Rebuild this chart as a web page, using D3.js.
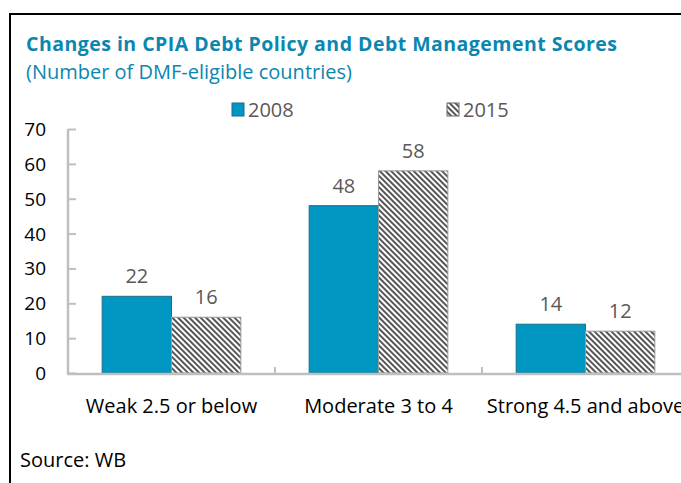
<!DOCTYPE html>
<html>
<head>
<meta charset="utf-8">
<script src="https://cdn.jsdelivr.net/npm/d3@7"></script>
<style>
  body { margin: 0; background: #fff; }
  svg { display: block; font-family: "Open Sans", "Noto Sans", sans-serif; }
</style>
</head>
<body>
<div id="graph"></div>
<script>
const categories = ["Weak 2.5 or below", "Moderate 3 to 4", "Strong 4.5 and above"]
const seriesNames = ["2008", "2015"]
const values2008 = [22, 48, 14]
const values2015 = [16, 58, 12]
const yTicks = [0, 10, 20, 30, 40, 50, 60, 70]

const width = 681
const height = 483
const teal = "#0096c2"

const svg = d3.select("#graph").append("svg")
    .attr("width", width)
    .attr("height", height)

// hatch pattern for 2015
const defs = svg.append("defs")
const pat = defs.append("pattern")
    .attr("id", "hatch")
    .attr("patternUnits", "userSpaceOnUse")
    .attr("width", 4)
    .attr("height", 4)
    .attr("patternTransform", "rotate(-45)")
pat.append("rect").attr("width", 4).attr("height", 4).attr("fill", "#fff")
pat.append("line")
    .attr("x1", 1).attr("y1", 0).attr("x2", 1).attr("y2", 4)
    .attr("stroke", "#444").attr("stroke-width", 1.8)

// frame
svg.append("path")
    .attr("d", `M10,${height} V14 H${width}`)
    .attr("fill", "none")
    .attr("stroke", "#000")
    .attr("stroke-width", 2)

// Title
svg.append("text")
    .attr("x", 26).attr("y", 51)
    .attr("font-size", 19.5)
    .attr("font-weight", "bold")
    .attr("fill", "#0a86b0")
    .attr("textLength", 591)
    .text("Changes in CPIA Debt Policy and Debt Management Scores")

svg.append("text")
    .attr("x", 26).attr("y", 79)
    .attr("font-size", 20)
    .attr("fill", "#0a86b0")
    .text("(Number of DMF-eligible countries)")

const y = d3.scaleLinear()
    .domain([0, 70])
    .range([373, 129])

const x0 = d3.scaleBand()
    .domain(categories)
    .range([68, 689])
    .paddingInner(0.33)
    .paddingOuter(0.165)

const x1 = d3.scaleBand()
    .domain(seriesNames)
    .range([0, x0.bandwidth()])

// Y axis
const yAxis = svg.append("g")
    .attr("transform", "translate(68,0)")
    .call(d3.axisRight(y).tickValues(yTicks).tickSize(8).tickFormat(""))
yAxis.select(".domain").remove()
yAxis.selectAll(".tick line").attr("stroke", "#bfbfbf").attr("stroke-width", 2)
svg.append("line")
    .attr("x1", 68).attr("x2", 68)
    .attr("y1", y(70)).attr("y2", y(0) + 1)
    .attr("stroke", "#bfbfbf").attr("stroke-width", 2.5)

svg.append("g")
    .selectAll("text")
    .data(yTicks)
    .join("text")
    .attr("x", 46)
    .attr("y", d => y(d) + 7)
    .attr("text-anchor", "end")
    .attr("font-size", 19)
    .attr("fill", "#000")
    .text(d => d)

// bars
const rows = categories.map((c, i) => ({ cat: c, vals: [values2008[i], values2015[i]] }))

const groups = svg.append("g")
    .selectAll("g")
    .data(rows)
    .join("g")
    .attr("transform", d => `translate(${x0(d.cat)},0)`)

groups.selectAll("rect")
    .data(d => d.vals.map((v, j) => ({ key: seriesNames[j], v })))
    .join("rect")
    .attr("x", d => x1(d.key))
    .attr("width", x1.bandwidth())
    .attr("y", d => y(d.v))
    .attr("height", d => y(0) - y(d.v))
    .attr("fill", d => d.key === "2008" ? teal : "url(#hatch)")
    .attr("stroke", d => d.key === "2008" ? "#1a6f8a" : "#999")
    .attr("stroke-width", 1)

groups.selectAll("text")
    .data(d => d.vals.map((v, j) => ({ key: seriesNames[j], v })))
    .join("text")
    .attr("x", d => x1(d.key) + x1.bandwidth() / 2)
    .attr("y", d => y(d.v) - 13)
    .attr("text-anchor", "middle")
    .attr("font-size", 20)
    .attr("fill", "#595959")
    .text(d => d.v)

// X axis
svg.append("line")
    .attr("x1", 67).attr("x2", width)
    .attr("y1", y(0) + 1).attr("y2", y(0) + 1)
    .attr("stroke", "#bfbfbf").attr("stroke-width", 2.5)

svg.append("g")
    .selectAll("line")
    .data(categories.slice(1))
    .join("line")
    .attr("x1", d => x0(d) - x0.step() * x0.paddingInner() / 2)
    .attr("x2", d => x0(d) - x0.step() * x0.paddingInner() / 2)
    .attr("y1", y(0) - 6).attr("y2", y(0))
    .attr("stroke", "#bfbfbf").attr("stroke-width", 2)

svg.append("g")
    .selectAll("text")
    .data(categories)
    .join("text")
    .attr("x", d => x0(d) + x0.bandwidth() / 2)
    .attr("y", 413)
    .attr("text-anchor", "middle")
    .attr("font-size", 20)
    .attr("fill", "#000")
    .text(d => d)

// Legend
const legend = svg.append("g")
const legendX = [232, 447]
seriesNames.forEach((s, i) => {
    legend.append("rect")
        .attr("x", legendX[i]).attr("y", 103)
        .attr("width", 12).attr("height", 13)
        .attr("fill", i === 0 ? teal : "url(#hatch)")
        .attr("stroke", i === 0 ? "#1a6f8a" : "#666")
    legend.append("text")
        .attr("x", legendX[i] + 16).attr("y", 117)
        .attr("font-size", 20)
        .attr("fill", "#595959")
        .text(s)
})

// Source
svg.append("text")
    .attr("x", 20).attr("y", 467)
    .attr("font-size", 20)
    .attr("fill", "#000")
    .text("Source: WB")
</script>
</body>
</html>
